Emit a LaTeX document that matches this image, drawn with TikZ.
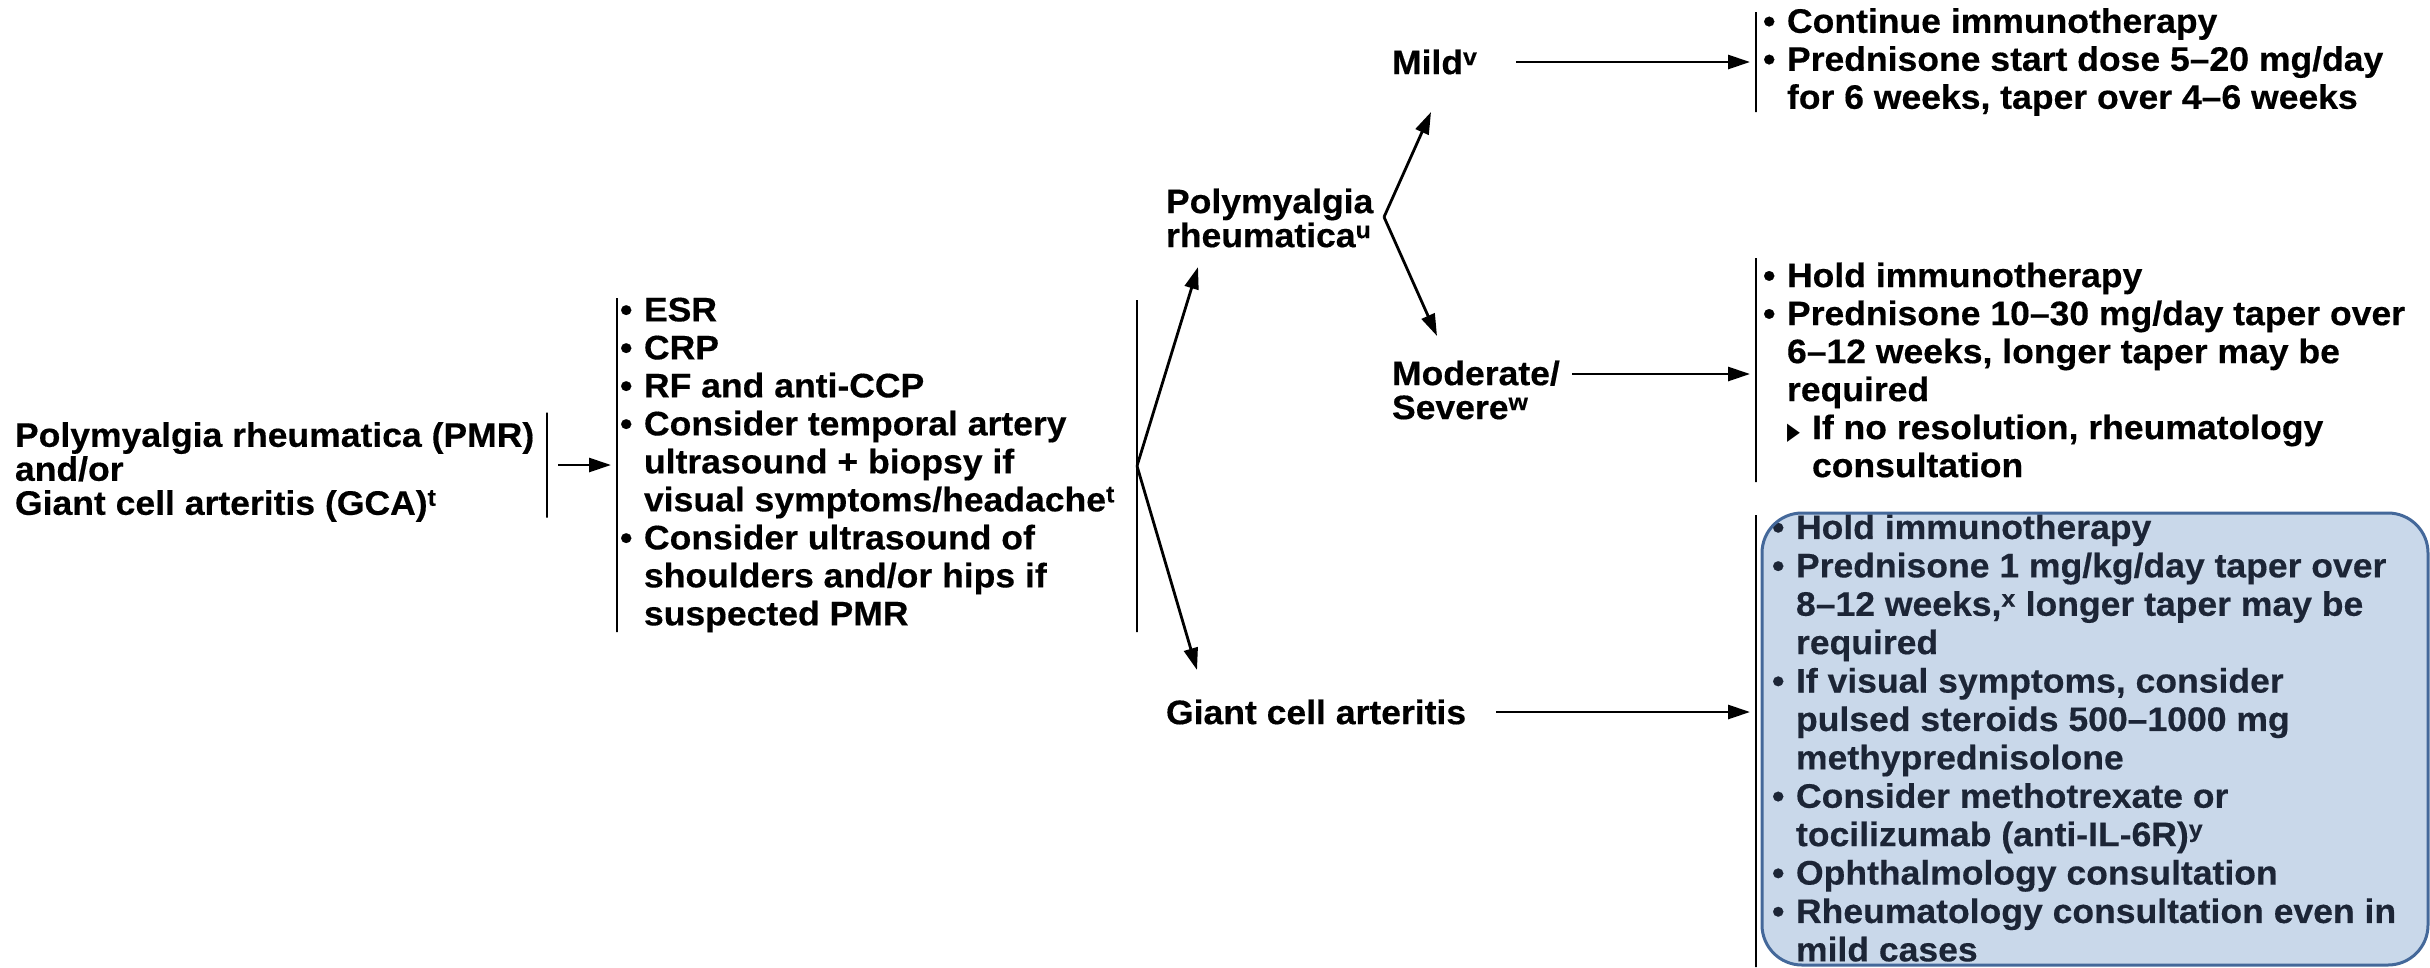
\documentclass[tikz,border=0pt]{standalone}
\usepackage{fontspec}
\setmainfont{Liberation Sans}[FakeStretch=1.045, BoldFeatures={FakeBold=0.4}]
\newfontfamily\symfont{DejaVu Sans}
\usetikzlibrary{arrows.meta}
\definecolor{boxfill}{HTML}{C9D8EA}
\definecolor{boxline}{HTML}{44689A}
\definecolor{boxtext}{HTML}{1C2536}
% list helpers: bullet, continuation indent, sub-bullet
\newcommand{\bi}{\makebox[24pt][l]{\textbullet}}
\newcommand{\ci}{\hspace*{24pt}}
\newcommand{\si}{\hspace*{24pt}\makebox[25pt][l]{\scalebox{0.7}[1.0]{\symfont\fontsize{24}{24}\selectfont ▶}}}
\begin{document}
\begin{tikzpicture}[x=1pt,y=-1pt,
  txt/.style={inner sep=0pt, outer sep=0pt, align=left, anchor=west,
    font=\fontsize{34}{38}\selectfont\bfseries},
  lbl/.style={txt, font=\fontsize{34}{34}\selectfont\bfseries},
  vbar/.style={draw, line width=2.6pt, inner sep=0pt, outer sep=0pt, minimum width=0pt},
  arr/.style={line width=2.8pt, -{Triangle[length=22pt,width=14pt]}},
]
\useasboundingbox (0,0) rectangle (2430,967);

% presenting condition and work-up
\node[lbl] (src) at (15,472) {Polymyalgia rheumatica (PMR)\\and/or\\Giant cell arteritis (GCA)\textsuperscript{t}};
\node[vbar, minimum height=105pt] (bar1) at (547,465) {};
\node[vbar, minimum height=334pt] (bar2) at (617,465) {};
\node[txt] (work) at (620,465) {\bi ESR\\\bi CRP\\\bi RF and anti-CCP\\\bi Consider temporal artery\\\ci ultrasound + biopsy if\\\ci visual symptoms/headache\textsuperscript{t}\\\bi Consider ultrasound of\\\ci shoulders and/or hips if\\\ci suspected PMR};
\node[vbar, minimum height=332pt] (bar3) at (1137,466) {};

% diagnoses and grades
\node[lbl] (pmr) at (1166,218) {Polymyalgia\\rheumatica\textsuperscript{u}};
\node[lbl] (gca) at (1166,712) {Giant cell arteritis};
\node[lbl] (mild) at (1392,62) {Mild\textsuperscript{v}};
\node[lbl] (mod) at (1392,390) {Moderate/\\Severe\textsuperscript{w}};

% management
\node[vbar, minimum height=100pt] (bar4) at (1756,62) {};
\node[txt] (mildtx) at (1763,62) {\bi Continue immunotherapy\\\bi Prednisone start dose 5–20 mg/day\\\ci for 6 weeks, taper over 4–6 weeks};
\node[vbar, minimum height=224pt] (bar5) at (1756,370) {};
\node[txt] (modtx) at (1763,370) {\bi Hold immunotherapy\\\bi Prednisone 10–30 mg/day taper over\\\ci 6–12 weeks, longer taper may be\\\ci required\\\si If no resolution, rheumatology\\\hspace*{49pt}consultation};
\node[vbar, minimum height=452pt] (bar6) at (1756,741) {};

% highlighted GCA management box
\fill[boxfill, rounded corners=40pt] (1762,513) rectangle (2428,965);
\begin{scope}
  \clip[rounded corners=40pt] (1762,513) rectangle (2428,965);
  \node[txt, text=boxtext, font=\fontsize{34}{38.4}\selectfont\bfseries] (gcatx) at (1772,738) {\bi Hold immunotherapy\\\bi Prednisone 1 mg/kg/day taper over\\\ci 8–12 weeks,\textsuperscript{x} longer taper may be\\\ci required\\\bi If visual symptoms, consider\\\ci pulsed steroids 500–1000 mg\\\ci methyprednisolone\\\bi Consider methotrexate or\\\ci tocilizumab (anti-IL-6R)\textsuperscript{y}\\\bi Ophthalmology consultation\\\bi Rheumatology consultation even in\\\ci mild cases};
\end{scope}
\draw[boxline, line width=3pt, rounded corners=40pt] (1762,513) rectangle (2428,965);

% connectors
\coordinate (pmrin) at (1198,267);
\coordinate (gcain) at (1197,670);
\coordinate (fork) at (1384,217);
\coordinate (mildin) at (1431,112);
\coordinate (modin) at (1437,336);
\coordinate (modout) at (1572,374);

\draw[arr, shorten >=6pt] ([xshift=11pt]bar1.east) -- (bar1.east -| bar2.west);
\draw[arr] (bar3.center) -- (pmrin);
\draw[arr] (bar3.center) -- (gcain);
\draw[arr] (fork) -- (mildin);
\draw[arr] (fork) -- (modin);
\draw[arr, shorten >=6pt] ([xshift=39pt]mild.east) -- (mild.east -| bar4.west);
\draw[arr, shorten >=6pt] (modout) -- (modout -| bar5.west);
\draw[arr, shorten >=6pt] ([xshift=30pt]gca.east) -- (gca.east -| bar6.west);
\end{tikzpicture}
\end{document}
